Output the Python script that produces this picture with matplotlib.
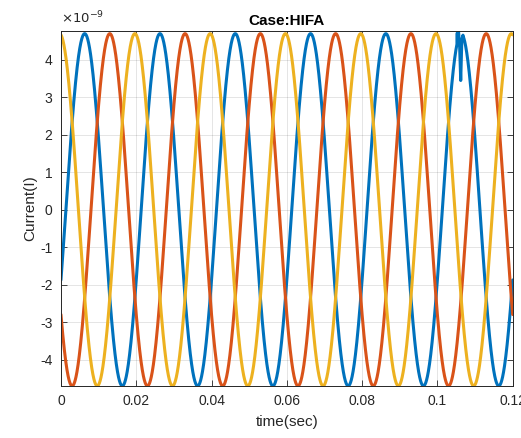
import numpy as np
import matplotlib
matplotlib.use("Agg")
import matplotlib.pyplot as plt
from matplotlib.ticker import FuncFormatter

# ---- data ----
series_names = ["Phase A", "Phase B", "Phase C"]
series_colors = ["#0072BD", "#D95319", "#EDB120"]
amplitude = 4.70e-9            # A, peak current
frequency = 50.0               # Hz
phase_deg = [-23.5, -143.5, 96.5]   # phase of each series at t = 0 (deg)
t_end = 0.12                   # s

# HIFA disturbance on phase A near t = 0.106 s
spike_t = [0.1052, 0.1056, 0.1059, 0.1062, 0.1065, 0.1068]
spike_v = [4.70e-9, 4.78e-9, 4.40e-9, 3.45e-9, 4.55e-9, 4.66e-9]

x_ticks = [0, 0.02, 0.04, 0.06, 0.08, 0.10, 0.12]
x_tick_labels = ["0", "0.02", "0.04", "0.06", "0.08", "0.1", "0.12"]
y_ticks = [-4e-9, -3e-9, -2e-9, -1e-9, 0, 1e-9, 2e-9, 3e-9, 4e-9]

# ---- build waveforms ----
t = np.linspace(0, t_end, 4801)
curves = []
for i, ph in enumerate(phase_deg):
    y = amplitude * np.sin(2 * np.pi * frequency * t + np.deg2rad(ph))
    tt = t.copy()
    if i == 0:
        before = t < spike_t[0]
        after = t > spike_t[-1]
        tt = np.concatenate([t[before], spike_t, t[after]])
        y = np.concatenate([y[before], spike_v, y[after]])
    curves.append((tt, y))

# ---- figure ----
plt.rcParams["font.family"] = ["Liberation Sans", "DejaVu Sans"]
fig = plt.figure(figsize=(5.21, 4.38), dpi=100)
ax = fig.add_axes([0.117, 0.119, 0.867, 0.811])

for (tt, y), c, n in zip(curves, series_colors, series_names):
    ax.plot(tt, y, color=c, lw=2.2, label=n, solid_capstyle="round")

ax.set_xlim(0, t_end)
ax.set_ylim(-4.70e-9, 4.78e-9)
ax.set_xticks(x_ticks)
ax.set_xticklabels(x_tick_labels)
ax.set_yticks(y_ticks)
ax.yaxis.set_major_formatter(FuncFormatter(lambda v, p: f"{round(v / 1e-9):d}"))

tc = "#262626"
ax.tick_params(direction="in", length=4, width=0.6, colors=tc, labelsize=10,
               top=True, right=True, pad=6)
for s in ax.spines.values():
    s.set_color(tc)
    s.set_linewidth(0.7)
ax.grid(True, color="#000000", alpha=0.12, lw=0.6)
ax.set_axisbelow(True)

ax.set_title("Case:HIFA", fontsize=11, fontweight="bold", color="#000000", pad=4)
ax.set_xlabel("time(sec)", fontsize=11, color=tc, labelpad=5)
ax.set_ylabel("Current(I)", fontsize=11, color=tc, labelpad=2)
ax.text(0.0, 1.012, r"$\times10^{-9}$", transform=ax.transAxes, fontsize=9.5,
        color=tc, ha="left", va="bottom")

fig.savefig("out.png", dpi=100)
